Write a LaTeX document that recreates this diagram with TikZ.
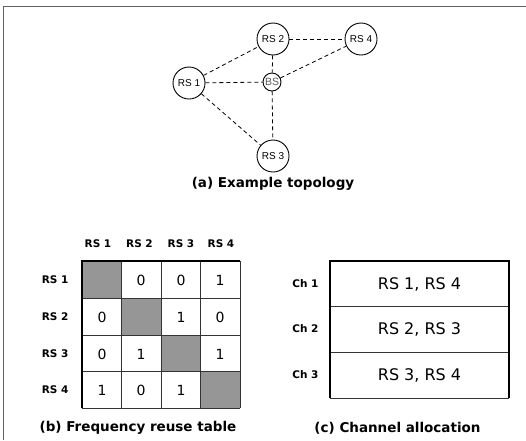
\documentclass[tikz,border=0pt]{standalone}
\usepackage{fontspec}
\setmainfont{DejaVu Sans}
\newfontfamily\stationfont{Liberation Sans}
\usetikzlibrary{positioning}
\definecolor{cellgray}{RGB}{150,150,150}
\definecolor{framegray}{RGB}{95,95,95}
\tikzstyle{station} = [circle, draw, line width=0.9pt, minimum size=32pt, inner sep=0pt, font=\stationfont\fontsize{10}{12}\selectfont]
\tikzstyle{basestation} = [circle, draw, line width=0.9pt, minimum size=18pt, inner sep=0pt, text=black!65, font=\stationfont\fontsize{10.5}{12}\selectfont]
\tikzstyle{link}      = [line width=0.8pt, dash pattern=on 4pt off 3pt]
\tikzstyle{caption}   = [font=\fontsize{13.5}{16}\selectfont\bfseries]
\tikzstyle{header}    = [font=\fontsize{10.5}{12}\selectfont\bfseries]
\tikzstyle{cell}      = [font=\fontsize{14}{16}\selectfont]
\tikzstyle{chcell}    = [font=\fontsize{16}{18}\selectfont]
\tikzstyle{thinline}  = [line width=0.8pt, black!80]
\tikzstyle{thickline} = [line width=2pt, black]

\begin{document}
\begin{tikzpicture}[x=1pt, y=-1pt]
        \useasboundingbox (0,0) rectangle (526,440);
        \draw[framegray, line width=1.5pt] (3.5,440) -- (3.5,6.5) -- (526,6.5);

        % topology
        \node[station] (rs2) at (273,39) {RS 2};
        \node[station] (rs4) at (361,39) {RS 4};
        \node[station] (rs1) at (189,83) {RS 1};
        \node[basestation] (bs) at (272,82) {BS};
        \node[station] (rs3) at (273,156) {RS 3};

        \draw[link] (rs1) -- (rs2);
        \draw[link] (rs1) -- (bs);
        \draw[link] (rs1) -- (rs3);
        \draw[link] (rs2) -- (bs);
        \draw[link] (rs2) -- (rs4);
        \draw[link] (bs) -- (rs4);
        \draw[link] (bs) -- (rs3);

        \node[caption] (capa) at (273,184) {(a) Example topology};

        % frequency reuse table
        \fill[cellgray] (82,261) rectangle (121.5,298);
        \fill[cellgray] (121.5,298) rectangle (161,335);
        \fill[cellgray] (161,335) rectangle (200.5,371);
        \fill[cellgray] (200.5,371) rectangle (240,408);

        \draw[thinline] (121.5,261) -- (121.5,408);
        \draw[thinline] (161,261) -- (161,408);
        \draw[thinline] (200.5,261) -- (200.5,408);
        \draw[thinline] (240,261) -- (240,408);
        \draw[thinline] (82,298) -- (240,298);
        \draw[thinline] (82,335) -- (240,335);
        \draw[thinline] (82,371) -- (240,371);
        \draw[thinline] (82,408) -- (240,408);
        \draw[thickline] (82,408) -- (82,261) -- (240,261);

        \draw (98,244) node[header] {RS 1};
        \draw (139.5,244) node[header] {RS 2};
        \draw (181,244) node[header] {RS 3};
        \draw (221,244) node[header] {RS 4};

        \draw (72,280) node[header, anchor=east] {RS 1};
        \draw (72,317) node[header, anchor=east] {RS 2};
        \draw (72,354) node[header, anchor=east] {RS 3};
        \draw (72,390) node[header, anchor=east] {RS 4};

        \draw (141,280) node[cell] {0};
        \draw (181,280) node[cell] {0};
        \draw (220,280) node[cell] {1};
        \draw (102,317) node[cell] {0};
        \draw (181,317) node[cell] {1};
        \draw (220,317) node[cell] {0};
        \draw (102,354) node[cell] {0};
        \draw (141,354) node[cell] {1};
        \draw (220,354) node[cell] {1};
        \draw (102,390) node[cell] {1};
        \draw (141,390) node[cell] {0};
        \draw (181,390) node[cell] {1};

        \node[caption] (capb) at (138,428) {(b) Frequency reuse table};

        % channel allocation
        \draw[thinline] (330,306.5) -- (509,306.5);
        \draw[thinline] (330,352) -- (509,352);
        \draw[thinline] (330,398) -- (509,398);
        \draw[thickline] (330,398) -- (330,261) -- (509,261) -- (509,398);

        \draw (322,284) node[header, anchor=east] {Ch 1};
        \draw (322,329) node[header, anchor=east] {Ch 2};
        \draw (322,375) node[header, anchor=east] {Ch 3};

        \draw (419.5,284) node[chcell] {RS 1, RS 4};
        \draw (419.5,329) node[chcell] {RS 2, RS 3};
        \draw (419.5,375) node[chcell] {RS 3, RS 4};

        \node[caption] (capc) at (397.5,428) {(c) Channel allocation};
    \end{tikzpicture}
\end{document}
